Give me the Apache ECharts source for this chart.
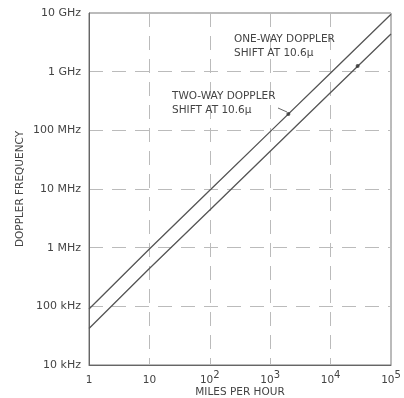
<!DOCTYPE html>
<html>
<head>
<meta charset="utf-8">
<script src="https://cdn.jsdelivr.net/npm/echarts@6/dist/echarts.min.js"></script>
<style>
  html, body { margin: 0; padding: 0; background: #fff; }
  #chart { width: 404px; height: 398px; }
</style>
</head>
<body>
<div id="chart"></div>
<script>
// speeds in mph, frequencies in Hz
const speeds = [1, 10, 100, 1000, 10000, 100000];
const twoWayHz = [9.0e4, 9.5e5, 9.5e6, 9.5e7, 9.5e8, 9.5e9];
const oneWayHz = [4.2e4, 4.4e5, 4.4e6, 4.4e7, 4.4e8, 4.4e9];
const yTicks = { 1e4: '10 kHz', 1e5: '100 kHz', 1e6: '1 MHz', 1e7: '10 MHz', 1e8: '100 MHz', 1e9: '1 GHz', 1e10: '10 GHz' };
const xTicks = { 1: '1', 10: '10', 100: '10|2', 1000: '10|3', 10000: '10|4', 100000: '10|5' };
const calloutPts = [[2000, 1.9e8], [28000, 1.25e9]];

const ink = '#444';
const chart = echarts.init(document.getElementById('chart'));

const mkLine = (name, vals) => ({
  name: name,
  type: 'line',
  data: speeds.map((s, i) => [s, vals[i]]),
  symbol: 'none',
  lineStyle: { color: '#555', width: 1.3 },
  z: 3
});

chart.setOption({
  backgroundColor: '#fff',
  animation: false,
  textStyle: { fontFamily: 'DejaVu Sans' },
  grid: {
    left: 89, right: 13, top: 13, bottom: 33,
    outerBoundsMode: 'none', containLabel: false,
    show: true, borderColor: '#777', borderWidth: 1
  },
  xAxis: {
    type: 'log', min: 1, max: 100000, logBase: 10,
    name: 'MILES PER HOUR', nameLocation: 'middle', nameGap: 22, nameMoveOverlap: false,
    nameTextStyle: { color: ink, fontSize: 10.5 },
    axisLine: { lineStyle: { color: '#666' } },
    axisTick: { show: false },
    axisLabel: {
      color: ink, fontSize: 10.5, margin: 4,
      formatter: v => {
        const t = xTicks[Math.round(v)] || '';
        if (t.indexOf('|') < 0) return '{b|' + t + '}';
        const p = t.split('|');
        return '{b|' + p[0] + '}{s|' + p[1] + '}';
      },
      rich: {
        b: { fontSize: 10.5, color: ink, padding: [6, 0, 0, 0] },
        s: { fontSize: 10, color: ink, padding: [0, 0, 4, 0] }
      }
    },
    splitLine: { show: true, lineStyle: { color: '#bbb', type: [14, 9], width: 1 } }
  },
  yAxis: {
    type: 'log', min: 1e4, max: 1e10, logBase: 10,
    name: 'DOPPLER FREQUENCY', nameLocation: 'middle', nameGap: 63, nameRotate: 90, nameMoveOverlap: false,
    nameTextStyle: { color: ink, fontSize: 10.5 },
    axisLine: { show: true, lineStyle: { color: '#666' } },
    axisTick: { show: false },
    axisLabel: { color: ink, fontSize: 11, margin: 8, formatter: v => yTicks[Math.round(v)] || '' },
    splitLine: { show: true, lineStyle: { color: '#bbb', type: [14, 9], width: 1 } }
  },
  series: [
    mkLine('two-way', twoWayHz),
    mkLine('one-way', oneWayHz),
    {
      type: 'scatter',
      data: calloutPts,
      symbolSize: 4,
      itemStyle: { color: '#333' },
      z: 4
    }
  ],
  graphic: [
    {
      type: 'text', left: 234, top: 32, z: 10,
      style: { text: 'ONE-WAY DOPPLER\nSHIFT AT 10.6μ', fill: ink, font: '10.5px DejaVu Sans', lineHeight: 14 }
    },
    {
      type: 'text', left: 172, top: 89, z: 10,
      style: { text: 'TWO-WAY DOPPLER\nSHIFT AT 10.6μ', fill: ink, font: '10.5px DejaVu Sans', lineHeight: 14 }
    },
    {
      type: 'line', z: 10,
      shape: { x1: 278, y1: 108, x2: 287, y2: 112 },
      style: { stroke: '#666', lineWidth: 1 }
    }
  ]
});
</script>
</body>
</html>
